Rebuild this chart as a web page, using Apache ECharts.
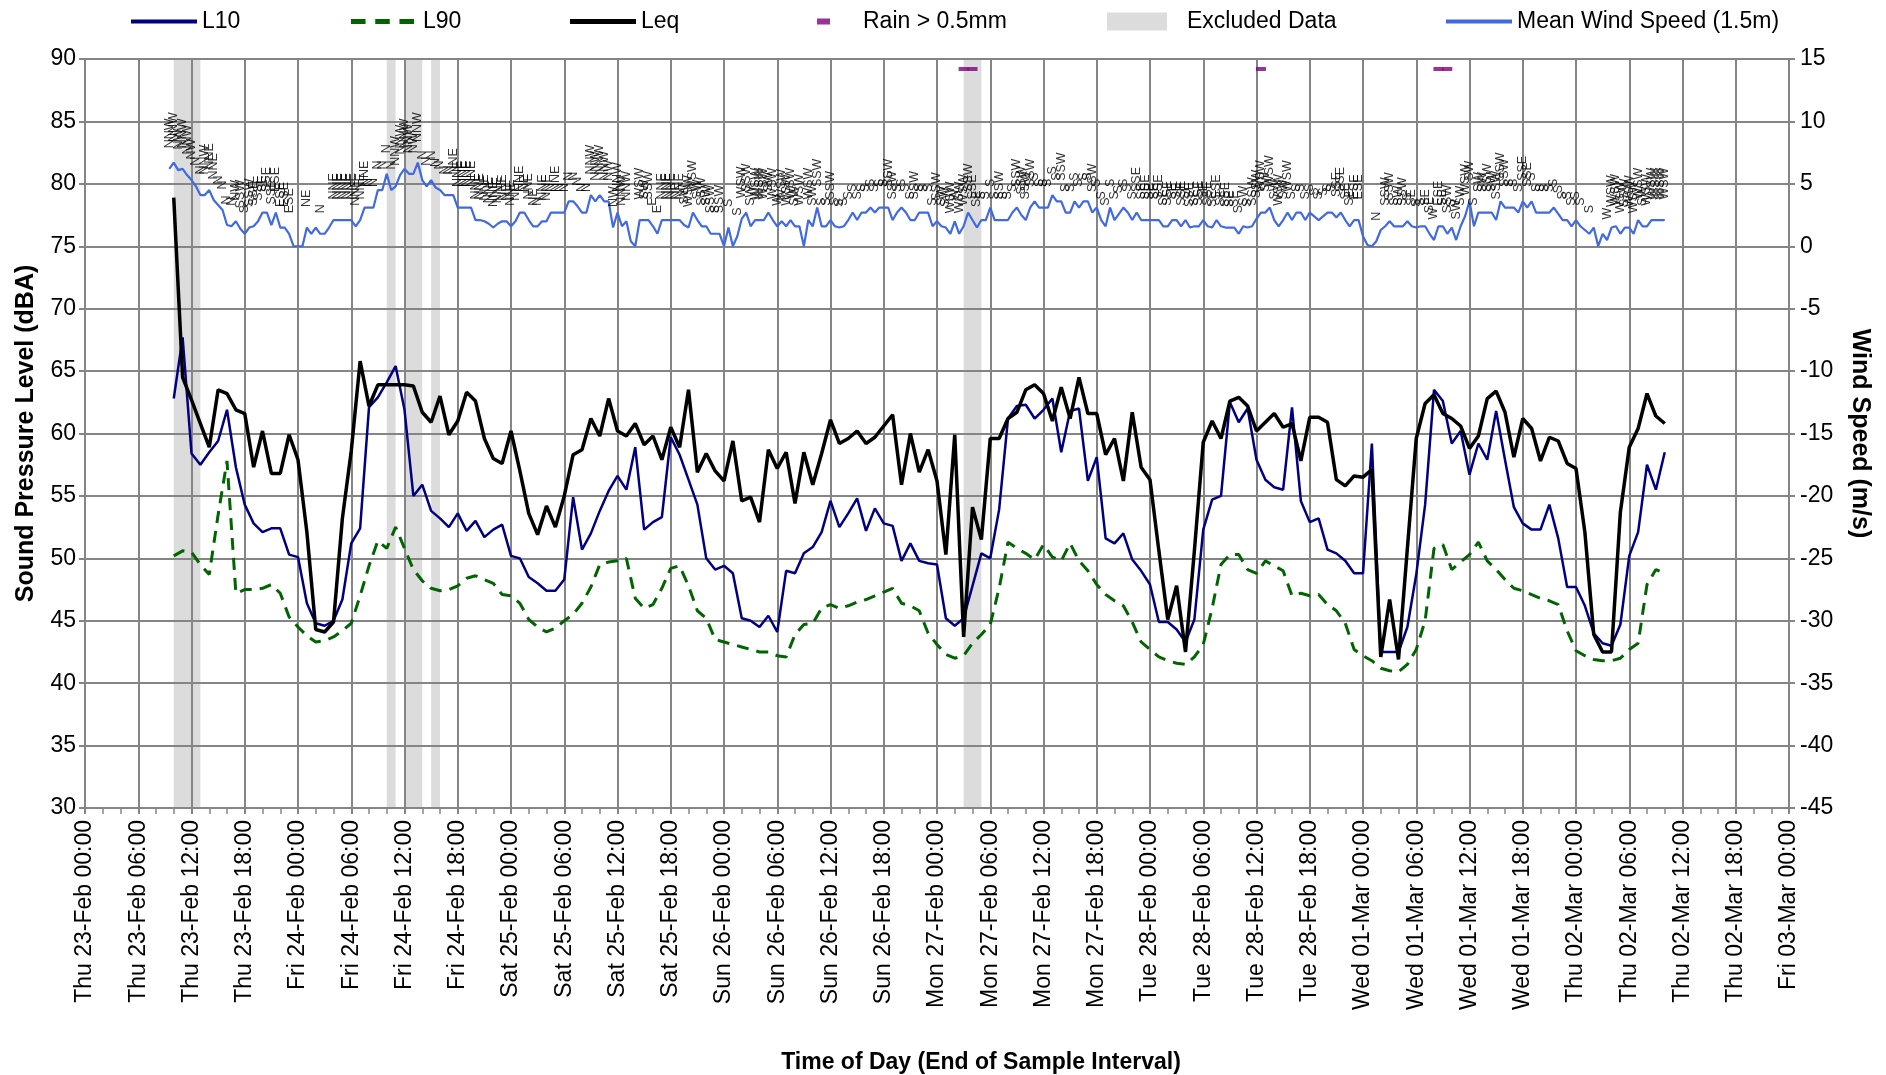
<!DOCTYPE html>
<html><head><meta charset="utf-8">
<script src="https://cdn.jsdelivr.net/npm/echarts@6.0.0/dist/echarts.min.js"></script>
<style>html,body{margin:0;padding:0;background:#fff}#c{width:1886px;height:1075px}</style>
</head><body><div id="c"></div>
<script>
// ---- data (hours since Thu 23-Feb 00:00) ----
const noiseStartHour = 10;   // hourly values, end of interval
const leq = [
78.9,64.5,62.7,60.8,58.9,63.5,63.2,61.9,61.6,57.3,
60.2,56.8,56.8,59.9,57.9,52.1,44.3,44.1,44.9,53.2,
58.6,65.8,62.2,63.9,63.9,63.9,63.9,63.8,61.7,60.9,
63.0,59.9,61.0,63.3,62.6,59.6,58.0,57.6,60.2,57.0,
53.6,51.9,54.2,52.5,55.0,58.3,58.7,61.2,59.8,62.8,
60.2,59.8,60.8,59.1,59.8,57.9,60.5,58.9,63.5,56.9,
58.4,57.0,56.2,59.4,54.6,54.9,52.9,58.7,57.2,58.5,
54.4,58.5,55.9,58.4,61.1,59.2,59.6,60.2,59.2,59.7,
60.6,61.5,55.9,60.0,56.9,58.7,56.2,50.3,59.9,43.7,
54.1,51.5,59.6,59.6,61.2,61.7,63.5,63.9,63.2,61.0,
63.7,61.2,64.5,61.6,61.6,58.3,59.6,56.2,61.7,57.3,
56.3,50.6,45.1,47.8,42.5,50.6,59.3,61.0,59.6,62.6,
62.9,62.2,60.2,60.9,61.6,60.5,60.8,57.8,61.3,61.3,
60.9,56.3,55.8,56.6,56.5,57.1,42.1,46.7,41.9,50.8,
59.6,62.4,63.1,61.6,61.2,60.6,58.8,59.8,62.8,63.4,
61.7,58.1,61.2,60.4,57.8,59.7,59.4,57.6,57.2,52.1,
43.9,42.5,42.5,53.7,58.9,60.4,63.2,61.4,60.8];
const l10 = [
62.8,67.7,58.4,57.5,58.5,59.4,61.9,57.3,54.3,52.8,
52.1,52.4,52.4,50.3,50.1,46.4,44.8,44.6,45.0,46.7,
51.2,52.4,62.1,62.9,64.1,65.4,61.9,55.0,55.9,53.8,
53.2,52.5,53.6,52.2,53.0,51.7,52.3,52.7,50.2,50.0,
48.5,48.0,47.4,47.4,48.3,54.9,50.7,52.0,53.8,55.4,
56.6,55.5,58.9,52.3,52.9,53.3,59.7,58.3,56.3,54.3,
50.0,49.1,49.4,48.8,45.2,45.0,44.5,45.4,44.1,49.0,
48.8,50.4,50.9,52.1,54.6,52.5,53.6,54.8,52.2,54.0,
52.8,52.6,49.8,51.2,49.8,49.6,49.5,45.2,44.6,45.2,
47.8,50.4,50.0,53.9,61.2,62.2,62.3,61.2,61.9,62.8,
58.5,61.8,62.0,56.2,58.1,51.6,51.2,52.0,49.9,49.0,
47.9,44.9,44.9,44.3,43.3,45.1,52.3,54.7,55.0,62.5,
60.9,62.0,57.9,56.3,55.7,55.5,62.1,54.6,52.9,53.2,
50.7,50.4,49.8,48.8,48.8,59.2,42.5,42.5,42.5,44.5,
48.7,54.3,63.5,62.6,59.2,60.2,56.7,59.2,57.9,61.8,
57.9,54.1,52.8,52.3,52.3,54.3,51.6,47.7,47.7,46.2,
44.0,43.2,43.0,44.7,50.2,52.1,57.5,55.5,58.5];
const l90 = [
50.2,50.6,50.5,49.5,48.7,53.5,57.8,47.2,47.5,47.5,
47.6,47.9,47.2,45.3,44.5,43.8,43.3,43.4,43.7,44.2,
44.8,47.0,49.4,51.4,50.8,52.5,50.8,49.1,48.2,47.6,
47.4,47.5,47.8,48.4,48.6,48.3,48.0,47.1,47.0,46.4,
45.1,44.5,44.1,44.4,45.0,45.5,46.4,47.7,49.5,49.7,
49.8,50.0,46.8,46.0,46.3,47.6,49.2,49.4,47.8,45.8,
45.2,43.5,43.3,43.1,42.9,42.7,42.5,42.5,42.2,42.1,
43.9,44.7,44.8,46.0,46.3,46.0,46.2,46.5,46.7,47.0,
47.3,47.6,46.4,46.2,45.8,44.0,43.1,42.3,42.0,42.2,
43.2,43.9,44.7,47.6,51.3,50.8,50.4,49.9,51.1,50.1,
49.8,51.2,49.8,49.0,47.9,47.1,46.6,46.2,44.9,43.3,
42.7,42.1,41.8,41.6,41.5,42.1,43.1,46.0,49.5,50.3,
50.3,49.1,48.8,49.8,49.4,49.0,47.0,47.2,47.0,47.1,
46.3,45.8,44.8,42.7,42.2,41.8,41.2,41.0,40.9,41.5,
42.7,45.0,50.8,51.1,49.1,49.7,50.3,51.3,49.8,49.1,
48.3,47.6,47.4,47.1,46.8,46.6,46.3,44.2,42.6,42.2,
41.9,41.8,41.8,42.0,42.7,43.2,47.9,49.1,48.8];

const windStartHour = 9.5;   // half-hourly values
const windSpeed = [
6.2,6.7,6.1,6.2,5.7,5.3,4.8,4.1,4.1,4.5,
3.7,3.3,2.9,1.7,1.6,2.0,1.4,1.0,1.5,1.6,
2.0,2.7,2.7,1.7,2.7,1.5,1.5,1.0,0.0,0.0,
0.0,1.5,1.0,1.5,1.0,1.0,1.5,2.1,2.1,2.1,
2.1,2.1,1.6,2.1,3.1,3.1,3.1,4.5,4.5,5.8,
4.5,4.8,5.7,6.2,5.8,5.8,6.7,5.3,4.8,5.3,
4.7,4.5,4.1,4.1,4.1,3.1,3.1,3.1,3.1,2.1,
2.1,2.0,1.8,1.5,1.8,2.0,2.0,1.6,2.0,2.7,
2.7,2.1,1.6,1.6,2.0,2.0,2.7,2.7,2.7,2.7,
3.6,3.6,3.2,2.7,2.7,4.1,3.6,4.1,3.6,3.6,
1.5,2.7,1.6,2.0,0.4,0.0,2.1,2.1,2.1,1.6,
1.0,2.1,2.1,2.1,2.1,2.1,1.7,1.5,2.7,2.1,
1.6,1.6,1.0,1.0,1.0,0.0,1.5,0.0,0.8,2.2,
2.7,1.6,2.1,2.1,2.1,2.7,2.1,1.6,2.0,1.6,
2.1,1.6,1.6,0.0,2.1,1.6,3.1,1.6,1.6,2.1,
1.6,1.5,1.6,2.1,2.7,2.1,2.7,2.7,3.1,2.7,
3.1,3.1,3.1,2.1,2.7,3.1,2.7,2.1,2.1,2.7,
2.7,2.7,1.6,2.0,1.6,1.5,1.0,2.0,1.0,1.6,
2.7,2.1,1.5,2.1,2.1,3.1,2.1,2.1,2.1,2.1,
2.7,3.1,2.5,2.1,3.1,3.6,3.1,3.1,3.1,4.1,
3.6,3.6,2.7,2.7,3.6,3.1,3.6,3.6,2.7,3.1,
2.1,1.6,3.1,2.1,2.6,3.1,2.7,2.1,2.7,2.1,
2.1,2.1,2.1,2.1,1.6,1.6,2.1,2.1,1.6,2.1,
1.5,1.6,1.6,2.1,1.6,1.5,2.1,1.6,1.5,1.5,
1.5,1.0,1.6,1.5,1.6,2.2,2.7,2.7,3.1,2.1,
1.6,2.1,2.7,2.1,2.7,2.7,2.1,2.7,2.4,2.1,
2.4,2.7,2.7,2.3,2.7,2.1,1.6,2.1,2.1,0.8,
0.1,0.0,0.4,1.3,1.6,2.0,1.6,1.6,1.6,2.0,
1.6,1.5,1.6,1.6,1.0,0.5,1.6,1.6,1.0,1.5,
0.5,1.6,2.4,3.6,1.6,2.7,2.7,2.7,2.7,2.1,
3.6,3.1,3.1,3.1,2.7,3.6,3.1,3.6,2.7,2.7,
2.7,2.7,3.1,2.6,2.1,2.1,1.6,2.1,1.6,1.3,
1.0,1.5,0.0,1.0,0.5,1.5,1.6,1.0,1.5,1.5,
1.0,2.1,1.6,1.6,2.1,2.1,2.1,2.1];
const windDir = [
'NNW','NNW','NW','NNW','NNW','NW','N','N','NNW','NNE',
'NNE','N','N','N','N','NW','SSW','S','SSW','SSE',
'SSE','SE','SSE','SSE','ESE','ESE','ESE','ESE','','',
'','NE','','','N','','','NNE','NNE','NNE',
'NNE','NNE','NNE','NNE','NNE','N','N','N','N','N',
'N','NNW','NNW','NNW','NNW','NW','NNW','N','N','N',
'N','N','N','N','NNE','NNE','NNE','NNE','NNE','NNE',
'NNE','NNE','NNE','NNE','NNE','NNE','NE','NNE','NE','NNE',
'NE','NNE','NE','N','NNE','NNE','N','NNE','N','N',
'N','N','N','N','N','NNW','NNW','NNW','NNW','NW',
'NW','NNW','NNW','NNW','','','WSW','SW','SSW','E',
'E','NNE','NNE','NNE','NE','NNE','SW','WSW','WSW','SW',
'SSW','SW','SSW','S','SSW','','S','','S','WSW',
'SSW','SW','WSW','WSW','WSW','SW','WSW','W','WSW','WSW',
'WSW','SW','WSW','','WSW','SW','SSW','S','S','SSW',
'S','S','S','S','S','S','S','S','S','S',
'S','S','SSW','SSW','S','S','S','S','SSW','S',
'S','S','S','SSW','SW','SW','WSW','W','WSW','WSW',
'SSW','SSE','SE','S','S','S','S','SSW','S','S',
'S','SSW','SSW','SSW','SSW','S','S','S','S','S',
'S','SSW','S','S','S','S','S','S','SSW','S',
'S','S','S','S','S','S','S','S','SSE','SE',
'SSE','SE','SE','SSE','SE','SSE','SE','SE','SSE','SE',
'SSE','SE','SSE','SE','SSE','SE','SSE','SE','SSE','SE',
'SE','S','SW','S','SSW','SSW','WSW','SW','WSW','SW',
'WSW','SW','WSW','S','S','S','S','S','S','S',
'S','S','S','SSE','SSE','SE','SE','ESE','ESE','',
'','','N','','SSW','SSW','S','SW','SSW','S',
'SE','S','S','SE','SE','W','ESE','SE','SSW','S',
'SW','SW','WSW','SW','S','SW','SW','SSW','SW','SSW',
'SSW','SSW','S','S','S','SSE','SSE','S','S','S',
'S','S','S','S','S','S','S','S','S','',
'S','','','','W','WSW','WSW','WSW','SSW','WSW',
'WSW','WSW','SW','WSW','WSW','WSW','WSW','WSW'];

const excludedStart = [10, 34, 36, 39, 99];
const excludedEnd   = [13, 35, 38, 40, 101];
const rainHours = [99, 100, 132.5, 152.5, 153.5];
const rainLevel = 89.2;

const xTickLabels = [
'Thu 23-Feb 00:00','Thu 23-Feb 06:00','Thu 23-Feb 12:00','Thu 23-Feb 18:00',
'Fri 24-Feb 00:00','Fri 24-Feb 06:00','Fri 24-Feb 12:00','Fri 24-Feb 18:00',
'Sat 25-Feb 00:00','Sat 25-Feb 06:00','Sat 25-Feb 12:00','Sat 25-Feb 18:00',
'Sun 26-Feb 00:00','Sun 26-Feb 06:00','Sun 26-Feb 12:00','Sun 26-Feb 18:00',
'Mon 27-Feb 00:00','Mon 27-Feb 06:00','Mon 27-Feb 12:00','Mon 27-Feb 18:00',
'Tue 28-Feb 00:00','Tue 28-Feb 06:00','Tue 28-Feb 12:00','Tue 28-Feb 18:00',
'Wed 01-Mar 00:00','Wed 01-Mar 06:00','Wed 01-Mar 12:00','Wed 01-Mar 18:00',
'Thu 02-Mar 00:00','Thu 02-Mar 06:00','Thu 02-Mar 12:00','Thu 02-Mar 18:00',
'Fri 03-Mar 00:00'];

// ---- build ----
const FONT = "'Liberation Sans', Arial, sans-serif";
const GRID = '#858585';
const hourly = arr => arr.map((v, i) => [noiseStartHour + i, v]);
const windPts = windSpeed.map((v, i) => [windStartHour + i * 0.5, v]);
const exclData = excludedStart.map((s, i) => [s, excludedEnd[i]]);
const rainData = rainHours.map(h => [h, rainLevel]);

const chart = echarts.init(document.getElementById('c'), null, {renderer: 'canvas'});
const txt = {fontFamily: FONT, fontSize: 23, color: '#000'};
const legendBase = {top: 5, itemGap: 0, textStyle: Object.assign({}, txt), itemHeight: 4, itemWidth: 66};
const dashIcon = 'path://M0,0h12v4H0z M20,0h12v4H20z M40,0h12v4H40z';

chart.setOption({
  animation: false,
  backgroundColor: '#fff',
  textStyle: {fontFamily: FONT},
  grid: {left: 85, right: 97, top: 59, bottom: 267, containLabel: false, outerBoundsMode: 'none'},
  legend: [
    Object.assign({}, legendBase, {left: 126, data: [{name: 'L10', icon: 'rect'}]}),
    Object.assign({}, legendBase, {left: 346, itemWidth: 63, itemHeight: 5, data: [{name: 'L90', icon: dashIcon}],
      textStyle: Object.assign({}, txt, {padding: [0, 0, 0, 4]})}),
    Object.assign({}, legendBase, {left: 565, itemHeight: 5, data: [{name: 'Leq', icon: 'rect'}]}),
    Object.assign({}, legendBase, {left: 812, itemWidth: 13, itemHeight: 6, data: [{name: 'Rain > 0.5mm', icon: 'rect'}],
      textStyle: Object.assign({}, txt, {padding: [0, 0, 0, 28]})}),
    Object.assign({}, legendBase, {left: 1102, itemWidth: 60, itemHeight: 18, data: [{name: 'Excluded Data', icon: 'rect'}],
      textStyle: Object.assign({}, txt, {padding: [0, 0, 0, 15]})}),
    Object.assign({}, legendBase, {left: 1441, itemWidth: 66, data: [{name: 'Mean Wind Speed (1.5m)', icon: 'rect'}]})
  ],
  xAxis: {
    type: 'value', min: 0, max: 192, interval: 6,
    axisLine: {show: true, onZero: false, lineStyle: {color: GRID, width: 2}},
    axisTick: {show: true, length: 6, lineStyle: {color: GRID, width: 2}},
    minorTick: {show: true, splitNumber: 3, length: 6, lineStyle: {color: GRID, width: 1.5}},
    splitLine: {show: true, lineStyle: {color: GRID, width: 2}},
    axisLabel: Object.assign({}, txt, {rotate: 90, margin: 12,
      formatter: v => xTickLabels[Math.round(v / 6)] || ''}),
    name: 'Time of Day (End of Sample Interval)', nameLocation: 'middle', nameGap: 243,
    nameTextStyle: {fontFamily: FONT, fontSize: 23, fontWeight: 'bold', color: '#000', padding: [0, 0, 0, 88]}
  },
  yAxis: [{
    type: 'value', min: 30, max: 90, interval: 5, position: 'left',
    axisLine: {show: true, lineStyle: {color: GRID, width: 2}},
    axisTick: {show: true, length: 6, lineStyle: {color: GRID, width: 2}},
    splitLine: {show: true, lineStyle: {color: GRID, width: 2}},
    axisLabel: Object.assign({}, txt, {margin: 9}),
    name: 'Sound Pressure Level (dBA)', nameLocation: 'middle', nameGap: 46, nameRotate: 90,
    nameTextStyle: {fontFamily: FONT, fontSize: 25, fontWeight: 'bold', color: '#000'}
  }, {
    type: 'value', min: -45, max: 15, interval: 5, position: 'right',
    axisLine: {show: true, lineStyle: {color: GRID, width: 2}},
    axisTick: {show: true, length: 6, lineStyle: {color: GRID, width: 2}},
    splitLine: {show: false},
    axisLabel: Object.assign({}, txt, {margin: 11}),
    name: 'Wind Speed (m/s)', nameLocation: 'middle', nameGap: 58, nameRotate: -90,
    nameTextStyle: {fontFamily: FONT, fontSize: 25, fontWeight: 'bold', color: '#000'}
  }],
  series: [
    {
      name: 'Excluded Data', type: 'custom', z: -1, silent: true,
      itemStyle: {color: '#dcdcdc'},
      data: exclData,
      encode: {x: [0, 1]},
      renderItem: function (params, api) {
        const p0 = api.coord([api.value(0), 90]);
        const p1 = api.coord([api.value(1), 30]);
        return {type: 'rect', shape: {x: p0[0], y: p0[1], width: p1[0] - p0[0], height: p1[1] - p0[1]},
          style: {fill: '#dcdcdc'}};
      }
    },
    {name: 'L90', type: 'line', data: hourly(l90), symbol: 'none', z: 3,
      lineStyle: {color: '#006400', width: 3, type: [12, 8]}, itemStyle: {color: '#006400'}},
    {name: 'L10', type: 'line', data: hourly(l10), symbol: 'none', z: 4,
      lineStyle: {color: '#000080', width: 2.5}, itemStyle: {color: '#000080'}},
    {name: 'Leq', type: 'line', data: hourly(leq), symbol: 'none', z: 5,
      lineStyle: {color: '#000000', width: 3.5}, itemStyle: {color: '#000000'}},
    {name: 'Rain > 0.5mm', type: 'scatter', data: rainData, symbol: 'rect', symbolSize: [10, 4], z: 6,
      itemStyle: {color: '#800080'}},
    {name: 'Mean Wind Speed (1.5m)', type: 'line', yAxisIndex: 1, data: windPts, symbol: 'none', z: 6,
      lineStyle: {color: '#4169e1', width: 2.2}, itemStyle: {color: '#4169e1'}},
    {name: 'windDirection', type: 'scatter', yAxisIndex: 1, data: windPts, symbolSize: 1, z: 7, silent: true,
      itemStyle: {color: 'rgba(0,0,0,0)'},
      label: {show: true, position: 'top', distance: 20, rotate: 90, align: 'left', verticalAlign: 'middle',
        fontFamily: FONT, fontSize: 12.5, color: '#000',
        formatter: p => windDir[p.dataIndex] || ''}}
  ]
});
</script>
</body></html>
